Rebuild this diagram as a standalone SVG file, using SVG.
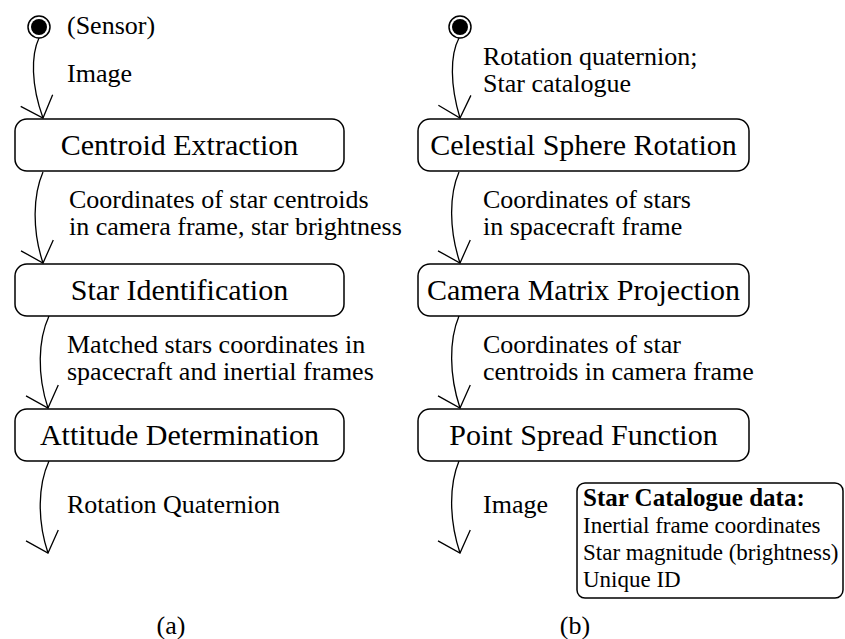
<svg xmlns="http://www.w3.org/2000/svg" width="845" height="639" viewBox="0 0 845 639" font-family="'Liberation Serif', 'Times New Roman', serif">
<style>
  text { font-family: "Liberation Serif", "Times New Roman", serif; fill: #000; }
  .node { font-size: 30px; text-anchor: middle; }
  .lbl { font-size: 26px; }
  .leg { font-size: 23px; }
  .legh { font-size: 25px; font-weight: bold; }
  .box { fill: #fff; stroke: #000; stroke-width: 1.5; }
  .edge { fill: none; stroke: #000; stroke-width: 1.3; marker-end: url(#arr); }
</style>
<defs>
  <marker id="arr" markerUnits="userSpaceOnUse" markerWidth="40" markerHeight="40" viewBox="-22 -20 24 40" refX="0" refY="0" orient="auto" overflow="visible">
    <path d="M-18.5,-17 L0,0 L-18.5,17" fill="none" stroke="#000" stroke-width="1.3"/>
  </marker>
</defs>
<rect width="845" height="639" fill="#fff"/>

<g id="connectors">
  <path class="edge" d="M39,38 C31,55 31,85 43,118"/>
  <path class="edge" d="M43,172 C33,195 32,230 43,263"/>
  <path class="edge" d="M49,316 C38,340 37,375 48,408"/>
  <path class="edge" d="M49,461 C38,485 37,520 48,553"/>
  <path class="edge" d="M459,38 C450,55 450,85 460,118"/>
  <path class="edge" d="M459,172 C449,195 449,230 460,263"/>
  <path class="edge" d="M459,316 C449,340 449,375 460,408"/>
  <path class="edge" d="M459,461 C449,485 449,520 460,553"/>
</g>

<g id="start-a">
  <circle cx="39" cy="27" r="11" fill="#fff" stroke="#000" stroke-width="1.5"/>
  <circle cx="39" cy="27" r="8" fill="#000"/>
  <text class="lbl" x="67" y="34">(Sensor)</text>
</g>
<g id="start-b">
  <circle cx="460" cy="27" r="11" fill="#fff" stroke="#000" stroke-width="1.5"/>
  <circle cx="460" cy="27" r="8" fill="#000"/>
</g>

<g id="centroid-extraction">
  <rect class="box" x="15" y="119" width="329" height="52" rx="12"/>
  <text class="node" x="179.5" y="155">Centroid Extraction</text>
</g>
<g id="star-identification">
  <rect class="box" x="15" y="264" width="329" height="52" rx="12"/>
  <text class="node" x="179.5" y="300">Star Identification</text>
</g>
<g id="attitude-determination">
  <rect class="box" x="15" y="409" width="329" height="52" rx="12"/>
  <text class="node" x="179.5" y="445">Attitude Determination</text>
</g>

<g id="celestial-sphere-rotation">
  <rect class="box" x="418" y="119" width="331" height="52" rx="12"/>
  <text class="node" x="583.5" y="155">Celestial Sphere Rotation</text>
</g>
<g id="camera-matrix-projection">
  <rect class="box" x="418" y="264" width="331" height="52" rx="12"/>
  <text class="node" x="583.5" y="300">Camera Matrix Projection</text>
</g>
<g id="point-spread-function">
  <rect class="box" x="418" y="409" width="331" height="52" rx="12"/>
  <text class="node" x="583.5" y="445">Point Spread Function</text>
</g>

<g id="edge-labels">
  <text class="lbl" x="67" y="82">Image</text>
  <text class="lbl" x="69" y="208">Coordinates of star centroids</text>
  <text class="lbl" x="69" y="235">in camera frame, star brightness</text>
  <text class="lbl" x="67" y="353">Matched stars coordinates in</text>
  <text class="lbl" x="67" y="380">spacecraft and inertial frames</text>
  <text class="lbl" x="67" y="513">Rotation Quaternion</text>

  <text class="lbl" x="483" y="65">Rotation quaternion;</text>
  <text class="lbl" x="483" y="92">Star catalogue</text>
  <text class="lbl" x="483" y="208">Coordinates of stars</text>
  <text class="lbl" x="483" y="235">in spacecraft frame</text>
  <text class="lbl" x="483" y="353">Coordinates of star</text>
  <text class="lbl" x="483" y="380">centroids in camera frame</text>
  <text class="lbl" x="483" y="513">Image</text>
</g>

<g id="star-catalogue-data">
  <rect class="box" x="577" y="483" width="266" height="115" rx="8"/>
  <text class="legh" x="583" y="506">Star Catalogue data:</text>
  <text class="leg" x="583" y="533">Inertial frame coordinates</text>
  <text class="leg" x="583" y="560">Star magnitude (brightness)</text>
  <text class="leg" x="583" y="587">Unique ID</text>
</g>

<g id="captions">
  <text class="lbl" x="171" y="634" text-anchor="middle">(a)</text>
  <text class="lbl" x="575" y="634" text-anchor="middle">(b)</text>
</g>
</svg>
